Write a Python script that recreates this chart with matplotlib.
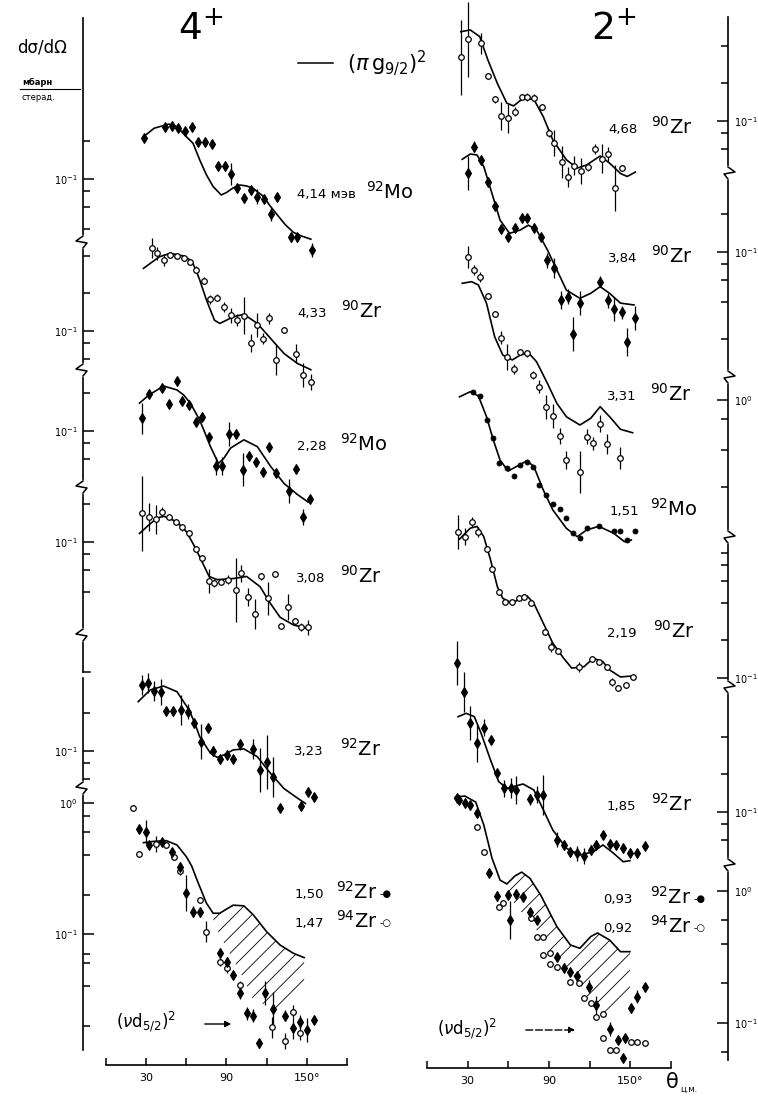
import numpy as np
import matplotlib.pyplot as plt
from matplotlib.lines import Line2D
from matplotlib.patches import FancyArrowPatch
from matplotlib.ticker import NullFormatter

plt.rcParams['font.family'] = ['DejaVu Sans']
plt.rcParams['hatch.linewidth'] = 0.6

# ---------------- 4+ column (angles in deg c.m., cross sections in mb/sr) ----------------
# 4,14 MeV 92Mo
a_mo92_414 = [28, 44, 49, 54, 59, 64, 69, 74, 79, 84, 89, 93, 98, 103, 108, 113, 118, 123, 128, 138, 143, 154]
s_mo92_414 = [0.211, 0.262, 0.266, 0.255, 0.243, 0.259, 0.199, 0.199, 0.190, 0.127, 0.127, 0.110, 0.084, 0.070,
              0.081, 0.072, 0.069, 0.0525, 0.072, 0.0341, 0.0341, 0.027]
e_mo92_414 = [1.07, 1.06, 1.06, 1.06, 1.06, 1.06, 1.07, 1.07, 1.07, 1.08, 1.08, 1.22, 1.08, 1.08, 1.08, 1.15,
              1.08, 1.13, 1.08, 1.08, 1.08, 1.13]
ta_mo92_414 = [28, 36, 47, 53, 60, 65, 70, 75, 80, 86, 90, 95, 100, 105, 110, 118, 122, 128, 134, 140, 146, 153]
ts_mo92_414 = [0.218, 0.255, 0.275, 0.262, 0.218, 0.193, 0.142, 0.108, 0.087, 0.0745, 0.078, 0.085, 0.0895, 0.088,
               0.084, 0.072, 0.062, 0.0515, 0.043, 0.0374, 0.035, 0.033]

# 4,33 90Zr
a_zr90_433 = [34, 38, 43, 48, 53, 58, 63, 67, 73, 78, 83, 88, 93, 98, 103, 108, 113, 117, 122, 127, 133, 142, 147, 153]
s_zr90_433 = [0.459, 0.418, 0.370, 0.406, 0.398, 0.382, 0.358, 0.31, 0.253, 0.179, 0.185, 0.156, 0.134, 0.122,
              0.133, 0.080, 0.112, 0.087, 0.126, 0.059, 0.102, 0.066, 0.0445, 0.039]
e_zr90_433 = [1.2, 1.12, 1.12, 1.06, 1.06, 1.06, 1.06, 1.06, 1.06, 1.08, 1.06, 1.1, 1.15, 1.12, 1.4, 1.18, 1.25,
              1.1, 1.1, 1.32, 1.06, 1.2, 1.25, 1.16]
ta_zr90_433 = [28, 35, 40, 48, 58, 62, 65, 67.5, 70, 75, 81, 85, 90, 95, 103, 113, 123, 133, 143, 153]
ts_zr90_433 = [0.317, 0.36, 0.393, 0.418, 0.398, 0.375, 0.345, 0.30, 0.256, 0.177, 0.122, 0.115, 0.122, 0.130,
               0.136, 0.115, 0.087, 0.066, 0.055, 0.049]

# 2,28 92Mo
a_mo92_228 = [27, 32, 42, 47, 53, 57, 62, 67, 72, 77, 82, 87, 92, 97, 102, 107, 112, 117, 122, 127, 137, 142, 147, 152]
s_mo92_228 = [0.126, 0.198, 0.220, 0.164, 0.251, 0.174, 0.161, 0.117, 0.130, 0.090, 0.0525, 0.0525, 0.094, 0.094,
              0.049, 0.063, 0.056, 0.047, 0.075, 0.046, 0.033, 0.050, 0.0206, 0.0284]
e_mo92_228 = [1.34, 1.06, 1.06, 1.07, 1.06, 1.06, 1.06, 1.06, 1.06, 1.06, 1.18, 1.18, 1.25, 1.06, 1.36, 1.08, 1.06,
              1.07, 1.05, 1.08, 1.25, 1.05, 1.16, 1.06]
ta_mo92_228 = [25, 32, 43, 53, 58, 63, 70, 74, 78, 84, 88, 93, 103, 113, 123, 133, 143, 151]
ts_mo92_228 = [0.167, 0.194, 0.229, 0.213, 0.194, 0.167, 0.122, 0.096, 0.075, 0.055, 0.0605, 0.073, 0.085, 0.075,
               0.052, 0.038, 0.031, 0.027]

# 3,08 90Zr
a_zr90_308 = [27, 32, 37, 42, 47, 52, 57, 62, 67, 72, 77, 81, 86, 91, 97, 101, 106, 111, 116, 121, 126, 131, 136,
              141, 146, 151]
s_zr90_308 = [0.170, 0.159, 0.152, 0.173, 0.158, 0.145, 0.131, 0.117, 0.088, 0.074, 0.049, 0.047, 0.048, 0.050,
              0.041, 0.056, 0.0365, 0.0265, 0.053, 0.0355, 0.0555, 0.0213, 0.030, 0.0233, 0.0208, 0.0208]
e_zr90_308 = [2.0, 1.3, 1.3, 1.1, 1.06, 1.06, 1.06, 1.06, 1.06, 1.06, 1.25, 1.08, 1.06, 1.08, 1.8, 1.16, 1.18, 1.32,
              1.06, 1.36, 1.06, 1.06, 1.27, 1.06, 1.08, 1.15]
ta_zr90_308 = [25, 32, 38, 43, 53, 60, 65, 70, 77, 83, 95, 105, 115, 123, 130, 140, 150]
ts_zr90_308 = [0.117, 0.137, 0.155, 0.161, 0.145, 0.121, 0.097, 0.076, 0.053, 0.050, 0.051, 0.053, 0.044, 0.032,
               0.025, 0.0217, 0.0204]

# 3,23 92Zr
a_zr92_323 = [27, 31, 36, 41, 45, 50, 56, 61, 66, 71, 76, 80, 85, 90, 95, 100, 110, 115, 120, 125, 130, 146, 151, 155]
s_zr92_323 = [0.337, 0.35, 0.304, 0.298, 0.210, 0.210, 0.213, 0.206, 0.167, 0.119, 0.152, 0.100, 0.087, 0.093,
              0.086, 0.113, 0.103, 0.0705, 0.082, 0.062, 0.035, 0.036, 0.047, 0.043]
e_zr92_323 = [1.2, 1.2, 1.2, 1.27, 1.08, 1.08, 1.32, 1.15, 1.08, 1.37, 1.06, 1.1, 1.06, 1.06, 1.06, 1.1, 1.2, 1.5,
              1.65, 1.45, 1.06, 1.06, 1.06, 1.06]
ta_zr92_323 = [24, 33, 43, 53, 62, 66, 70, 78, 83, 88, 95, 103, 113, 123, 133, 143, 149]
ts_zr92_323 = [0.248, 0.308, 0.331, 0.298, 0.213, 0.17, 0.130, 0.096, 0.089, 0.093, 0.102, 0.104, 0.090, 0.066,
               0.050, 0.042, 0.038]

# 1,50 92Zr (filled) and 1,47 94Zr (open)
a_zr92_150 = [25, 30, 32, 42, 49, 55, 60, 65, 70, 85, 90, 95, 100, 105, 110, 114, 119, 125, 134, 140, 145, 150, 155]
s_zr92_150 = [0.63, 0.60, 0.478, 0.50, 0.425, 0.327, 0.205, 0.148, 0.146, 0.072, 0.061, 0.0486, 0.0356, 0.0248,
              0.0237, 0.0146, 0.0356, 0.0266, 0.0237, 0.019, 0.0214, 0.0185, 0.022]
e_zr92_150 = [1.06, 1.23, 1.06, 1.06, 1.06, 1.08, 1.37, 1.1, 1.08, 1.08, 1.1, 1.06, 1.12, 1.12, 1.12, 1.08, 1.23,
              1.35, 1.1, 1.2, 1.12, 1.23, 1.06]
a_zr94_147 = [20, 25, 37, 45, 51, 55, 70, 75, 85, 90, 100, 124, 134, 140, 145]
s_zr94_147 = [0.91, 0.41, 0.49, 0.478, 0.389, 0.30, 0.182, 0.104, 0.0615, 0.0547, 0.0408, 0.0194, 0.0153, 0.0255,
              0.0177]
e_zr94_147 = [1.05, 1.05, 1.15, 1.06, 1.06, 1.06, 1.06, 1.2, 1.08, 1.08, 1.08, 1.2, 1.15, 1.12, 1.15]
ta_zr_150 = [28, 36, 45, 53, 60, 64, 68, 75, 80, 85, 90, 95, 103, 110, 120, 130, 140, 148]
ts_zr_150 = [0.498, 0.51, 0.516, 0.478, 0.389, 0.33, 0.258, 0.172, 0.144, 0.144, 0.155, 0.166, 0.164, 0.14, 0.104,
             0.0824, 0.0712, 0.066]
# hatched band down to the (nu d5/2)^2 curve
ha_150 = [77, 85, 95, 103, 110, 120, 130, 140, 148]
hhi_150 = [0.16, 0.144, 0.166, 0.164, 0.14, 0.104, 0.0824, 0.0712, 0.066]
hlo_150 = [0.155, 0.097, 0.0633, 0.0454, 0.0313, 0.0287, 0.0252, 0.0295, 0.0345]

# ---------------- 2+ column ----------------
# 4,68 90Zr
a_zr90_468 = [25, 30, 40, 45, 50, 55, 60, 65, 70, 74, 79, 85, 90, 94, 100, 104, 109, 114, 119, 124, 129, 134, 139, 144]
s_zr90_468 = [0.323, 0.45, 0.418, 0.229, 0.149, 0.110, 0.105, 0.119, 0.155, 0.156, 0.154, 0.129, 0.080, 0.067,
              0.047, 0.0355, 0.044, 0.040, 0.043, 0.060, 0.050, 0.0545, 0.029, 0.042]
e_zr90_468 = [2.0, 2.0, 1.22, 1.06, 1.06, 1.3, 1.3, 1.08, 1.06, 1.07, 1.06, 1.06, 1.08, 1.27, 1.34, 1.2, 1.2, 1.27,
              1.08, 1.1, 1.3, 1.13, 1.53, 1.06]
ta_zr90_468 = [25, 32, 39, 45, 52, 59, 64, 71, 79, 86, 93, 103, 111, 118, 128, 135, 143, 148, 154]
ts_zr90_468 = [0.518, 0.535, 0.473, 0.308, 0.200, 0.139, 0.132, 0.152, 0.149, 0.108, 0.0705, 0.049, 0.042, 0.0445,
               0.0525, 0.046, 0.038, 0.036, 0.039]

# 3,84 90Zr
a_zr90_384 = [30, 35, 40, 45, 50, 55, 60, 65, 70, 74, 79, 84, 89, 94, 99, 104, 108, 113, 128, 134, 138, 144, 148, 154]
s_zr90_384 = [0.431, 0.696, 0.545, 0.365, 0.233, 0.152, 0.133, 0.155, 0.186, 0.186, 0.155, 0.131, 0.086, 0.074,
              0.041, 0.044, 0.022, 0.039, 0.058, 0.041, 0.035, 0.033, 0.019, 0.0295]
e_zr90_384 = [1.37, 1.1, 1.06, 1.06, 1.06, 1.06, 1.06, 1.06, 1.06, 1.06, 1.06, 1.06, 1.15, 1.2, 1.18, 1.15, 1.37,
              1.25, 1.1, 1.15, 1.25, 1.13, 1.3, 1.25]
ta_zr90_384 = [26, 32, 37, 42, 48, 54, 61, 69, 75, 81, 89, 96, 103, 113, 121, 128, 135, 143, 153]
ts_zr90_384 = [0.551, 0.608, 0.597, 0.481, 0.295, 0.180, 0.141, 0.150, 0.164, 0.150, 0.104, 0.0718, 0.0496, 0.0426,
               0.0467, 0.0528, 0.0467, 0.039, 0.0377]

# 3,31 90Zr
a_zr90_331 = [30, 35, 39, 45, 50, 55, 59, 64, 69, 74, 78, 83, 88, 93, 98, 103, 113, 118, 123, 128, 133, 143]
s_zr90_331 = [14.0, 11.0, 9.6, 6.8, 4.85, 3.15, 2.2, 1.77, 2.41, 2.36, 1.58, 1.28, 0.874, 0.745, 0.515, 0.331,
              0.267, 0.509, 0.45, 0.643, 0.445, 0.342]
e_zr90_331 = [1.22, 1.1, 1.1, 1.06, 1.06, 1.13, 1.27, 1.1, 1.06, 1.06, 1.08, 1.12, 1.25, 1.25, 1.15, 1.17, 1.47,
              1.15, 1.13, 1.17, 1.2, 1.22]
ta_zr90_331 = [26, 33, 38, 44, 50, 56, 63, 69, 75, 81, 89, 96, 103, 113, 121, 128, 135, 143, 152]
ts_zr90_331 = [8.58, 8.84, 8.32, 5.94, 3.21, 2.29, 2.09, 2.29, 2.39, 2.02, 1.36, 0.94, 0.735, 0.631, 0.714, 0.884,
               0.735, 0.583, 0.547]

# 1,51 92Mo
a_mo92_151 = [34, 39, 44, 49, 53, 59, 64, 69, 74, 78, 83, 88, 93, 98, 103, 108, 113, 118, 127, 138, 143, 148, 154]
s_mo92_151 = [1.165, 1.077, 0.692, 0.494, 0.315, 0.287, 0.247, 0.302, 0.317, 0.293, 0.209, 0.174, 0.147, 0.134,
              0.113, 0.0859, 0.0783, 0.0941, 0.0976, 0.09, 0.09, 0.0759, 0.0894]
ta_mo92_151 = [24, 32, 38, 44, 49, 54, 60, 66, 74, 79, 86, 93, 103, 111, 118, 127, 138, 146, 151]
ts_mo92_151 = [1.06, 1.165, 1.077, 0.735, 0.479, 0.331, 0.27, 0.293, 0.327, 0.293, 0.19, 0.132, 0.0941, 0.0806,
               0.0912, 0.0976, 0.0859, 0.0735, 0.0759]

# 2,19 90Zr
a_zr90_219 = [23, 28, 33, 38, 44, 48, 53, 58, 63, 68, 72, 77, 87, 92, 97, 112, 122, 127, 133, 137, 141, 147, 152]
s_zr90_219 = [1.48, 1.35, 1.78, 1.48, 1.07, 0.745, 0.49, 0.408, 0.408, 0.434, 0.447, 0.396, 0.235, 0.176, 0.165,
              0.122, 0.142, 0.135, 0.123, 0.093, 0.083, 0.088, 0.102]
e_zr90_219 = [1.37, 1.17, 1.1, 1.1, 1.06, 1.06, 1.06, 1.05, 1.05, 1.05, 1.05, 1.05, 1.06, 1.1, 1.06, 1.1, 1.06,
              1.06, 1.06, 1.08, 1.06, 1.06, 1.06]
ta_zr90_219 = [24, 32, 37, 42, 47, 52, 56, 63, 69, 74, 79, 86, 93, 101, 107, 116, 123, 130, 135, 143, 153]
ts_zr90_219 = [1.29, 1.58, 1.63, 1.35, 0.879, 0.538, 0.434, 0.396, 0.434, 0.453, 0.396, 0.274, 0.19, 0.144, 0.12,
               0.123, 0.144, 0.135, 0.116, 0.102, 0.104]

# 1,85 92Zr
a_zr92_185 = [22, 27, 32, 37, 42, 47, 52, 57, 62, 66, 76, 81, 86, 96, 101, 106, 111, 116, 121, 125, 130, 135, 140,
              145, 150, 155, 161]
s_zr92_185 = [1.56, 0.917, 0.518, 0.358, 0.473, 0.377, 0.204, 0.155, 0.155, 0.15, 0.126, 0.137, 0.137, 0.060,
              0.0545, 0.048, 0.0467, 0.0445, 0.0496, 0.0545, 0.0655, 0.0555, 0.0545, 0.0513, 0.0467, 0.0472, 0.0535]
e_zr92_185 = [1.5, 1.45, 1.37, 1.42, 1.17, 1.08, 1.06, 1.17, 1.2, 1.3, 1.1, 1.17, 1.45, 1.15, 1.1, 1.1, 1.15, 1.15,
              1.1, 1.1, 1.08, 1.06, 1.06, 1.08, 1.06, 1.06, 1.06]
ta_zr92_185 = [23, 29, 35, 40, 47, 53, 59, 65, 71, 79, 86, 93, 103, 113, 123, 130, 138, 145, 150]
ts_zr92_185 = [0.579, 0.616, 0.579, 0.426, 0.26, 0.175, 0.155, 0.161, 0.1675, 0.15, 0.104, 0.0718, 0.0513, 0.0453,
               0.048, 0.0545, 0.0467, 0.040, 0.0408]

# 0,93 92Zr (filled) and 0,92 94Zr (open)
a_zr92_093 = [22, 24, 28, 32, 37, 46, 52, 60, 61, 66, 71, 76, 81, 96, 101, 106, 111, 120, 125, 135, 141, 145, 146,
              151, 155, 161]
s_zr92_093 = [5.04, 4.89, 4.62, 4.48, 3.88, 1.38, 0.917, 0.933, 0.603, 0.949, 0.905, 0.697, 0.603, 0.315, 0.26,
              0.245, 0.227, 0.188, 0.137, 0.0896, 0.0743, 0.054, 0.0766, 0.129, 0.158, 0.188]
e_zr92_093 = [1.06, 1.06, 1.06, 1.06, 1.06, 1.06, 1.1, 1.06, 1.39, 1.06, 1.06, 1.06, 1.06, 1.06, 1.06, 1.06, 1.06,
              1.12, 1.17, 1.13, 1.08, 1.06, 1.06, 1.08, 1.12, 1.06]
a_zr94_092 = [37, 42, 53, 56, 77, 81, 86, 86, 91, 91, 96, 106, 112, 116, 121, 125, 130, 130, 135, 140, 151, 155, 161]
s_zr94_092 = [3.07, 1.98, 0.752, 0.807, 0.621, 0.451, 0.451, 0.327, 0.341, 0.28, 0.267, 0.206, 0.2, 0.154, 0.141,
              0.112, 0.118, 0.0766, 0.0624, 0.0624, 0.0722, 0.0722, 0.071]
ta_zr_093 = [21, 28, 36, 42, 48, 54, 59, 65, 70, 76, 84, 96, 106, 113, 121, 126, 135, 143, 150]
ts_zr_093 = [5.15, 5.24, 4.72, 3.16, 1.78, 1.21, 1.13, 1.30, 1.39, 1.25, 0.933, 0.537, 0.39, 0.368, 0.451, 0.481,
             0.425, 0.347, 0.347]
ha_093 = [56, 65, 70, 76, 84, 96, 106, 113, 121, 126, 135, 143, 150]
hhi_093 = [1.15, 1.30, 1.39, 1.25, 0.933, 0.537, 0.39, 0.368, 0.451, 0.481, 0.425, 0.347, 0.347]
hlo_093 = [1.05, 0.8, 0.69, 0.59, 0.46, 0.3, 0.24, 0.2, 0.14, 0.125, 0.11, 0.125, 0.168]

x_ticks = [0, 30, 60, 90, 120, 150, 180]
x_labels = ['', '30', '', '90', '', '150°', '']

# ---------------- layout (pixels of the 758 x 1097 page) ----------------
W, H = 758, 1097
fig = plt.figure(figsize=(W / 100, H / 100), dpi=100)


def fx(x):
    return x / W


def fy(y):
    return 1 - y / H


# each strip of the broken log axis: top, bottom, reference value, its pixel row, pixels per decade,
# labelled ticks, small ticks
left_strips = [
    (18, 242, 0.1, 179, 125, [0.1], [0.2, 0.08, 0.06, 0.04]),
    (242, 370, 0.1, 331, 125, [0.1], [0.4, 0.2, 0.08, 0.06]),
    (370, 487, 0.1, 431, 125, [0.1], [0.2, 0.08, 0.06]),
    (487, 672, 0.1, 542, 125, [0.1], [0.2, 0.08, 0.06, 0.04]),
    (678, 788, 0.1, 751, 125, [0.1], [0.2, 0.08, 0.06]),
    (788, 1050, 1.0, 803, 131, [1.0, 0.1], [0.8, 0.6, 0.4, 0.2, 0.07, 0.06, 0.04, 0.02]),
]
right_strips = [
    (17, 173, 0.1, 121, 125, [0.1], [0.4, 0.2, 0.08, 0.06]),
    (173, 377, 0.1, 252, 125, [0.1], [0.2, 0.08, 0.06, 0.04, 0.02]),
    (377, 537, 1.0, 400, 125, [1.0], [0.7, 0.4, 0.2]),
    (537, 687, 0.1, 678, 125, [0.1], [1.0, 0.8, 0.6, 0.4, 0.2]),
    (687, 865, 0.1, 812, 125, [0.1], [0.4, 0.2, 0.08, 0.06]),
    (865, 1060, 1.0, 891, 132, [1.0, 0.1], [0.6, 0.4, 0.2, 0.06]),
]


def power_label(v):
    return r'$10^{%d}$' % round(np.log10(v))


def strip_axes(x0, x1, xlim, strip, side):
    top, bot, ref, ref_y, dec, majors, minors = strip
    ax = fig.add_axes([fx(x0), fy(bot), (x1 - x0) / W, (bot - top) / H])
    ax.set_yscale('log')
    ax.set_ylim(ref * 10 ** (-(bot - ref_y) / dec), ref * 10 ** ((ref_y - top) / dec))
    ax.set_xlim(*xlim)
    ax.set_facecolor('none')
    for name, sp in ax.spines.items():
        sp.set_visible(name == side)
        sp.set_linewidth(1.2)
    ax.set_xticks([])
    ax.yaxis.set_ticks_position(side)
    ax.set_yticks(majors, [power_label(m) for m in majors])
    ax.set_yticks(minors, minor=True)
    ax.yaxis.set_minor_formatter(NullFormatter())
    ax.tick_params(axis='y', which='major', direction='in', length=8, width=1.1, labelsize=7, pad=4)
    ax.tick_params(axis='y', which='minor', direction='in', length=5, width=1.1)
    return ax


L = [strip_axes(83, 347, (-17.2, 180), s, 'left') for s in left_strips]
R = [strip_axes(427, 728, (0, 222.5), s, 'right') for s in right_strips]

filled_d = dict(marker='d', ms=5, mfc='k', mec='k', mew=0.8)
open_o = dict(marker='o', ms=4, mfc='white', mec='k', mew=0.9)
filled_o = dict(marker='o', ms=3.6, mfc='k', mec='k', mew=0.6)


def draw_exp(ax, ang, sig, err, style):
    sig = np.asarray(sig, float)
    if err is not None:
        f = np.asarray(err, float)
        c = ax.errorbar(ang, sig, yerr=[sig - sig / f, sig * f - sig], fmt='none', ecolor='k',
                        elinewidth=0.9, capsize=0)
        for art in c.get_children():
            art.set_clip_on(False)
    ax.plot(ang, sig, ls='none', clip_on=False, zorder=3, **style)


def draw_theory(ax, ang, sig):
    ax.plot(ang, sig, color='k', lw=1.2, clip_on=False, solid_joinstyle='round')


# 4+ column
draw_theory(L[0], ta_mo92_414, ts_mo92_414)
draw_exp(L[0], a_mo92_414, s_mo92_414, e_mo92_414, filled_d)
draw_theory(L[1], ta_zr90_433, ts_zr90_433)
draw_exp(L[1], a_zr90_433, s_zr90_433, e_zr90_433, open_o)
draw_theory(L[2], ta_mo92_228, ts_mo92_228)
draw_exp(L[2], a_mo92_228, s_mo92_228, e_mo92_228, filled_d)
draw_theory(L[3], ta_zr90_308, ts_zr90_308)
draw_exp(L[3], a_zr90_308, s_zr90_308, e_zr90_308, open_o)
draw_theory(L[4], ta_zr92_323, ts_zr92_323)
draw_exp(L[4], a_zr92_323, s_zr92_323, e_zr92_323, filled_d)
L[5].fill_between(ha_150, hlo_150, hhi_150, facecolor='none', edgecolor='k', hatch='//', linewidth=0,
                  clip_on=False)
draw_theory(L[5], ta_zr_150, ts_zr_150)
draw_exp(L[5], a_zr94_147, s_zr94_147, e_zr94_147, open_o)
draw_exp(L[5], a_zr92_150, s_zr92_150, e_zr92_150, filled_d)

# 2+ column
draw_theory(R[0], ta_zr90_468, ts_zr90_468)
draw_exp(R[0], a_zr90_468, s_zr90_468, e_zr90_468, open_o)
draw_theory(R[1], ta_zr90_384, ts_zr90_384)
draw_exp(R[1], a_zr90_384, s_zr90_384, e_zr90_384, filled_d)
draw_theory(R[2], ta_zr90_331, ts_zr90_331)
draw_exp(R[2], a_zr90_331, s_zr90_331, e_zr90_331, open_o)
draw_theory(R[2], ta_mo92_151, ts_mo92_151)
draw_exp(R[2], a_mo92_151, s_mo92_151, None, filled_o)
draw_theory(R[3], ta_zr90_219, ts_zr90_219)
draw_exp(R[3], a_zr90_219, s_zr90_219, e_zr90_219, open_o)
draw_theory(R[4], ta_zr92_185, ts_zr92_185)
draw_exp(R[4], a_zr92_185, s_zr92_185, e_zr92_185, filled_d)
R[5].fill_between(ha_093, hlo_093, hhi_093, facecolor='none', edgecolor='k', hatch='//', linewidth=0,
                  clip_on=False)
draw_theory(R[5], ta_zr_093, ts_zr_093)
draw_exp(R[5], a_zr94_092, s_zr94_092, None, open_o)
draw_exp(R[5], a_zr92_093, s_zr92_093, e_zr92_093, filled_d)


# angle axes at the bottom
def angle_axis(x0, x1, y):
    ax = fig.add_axes([fx(x0), fy(y), (x1 - x0) / W, 0.5 / H])
    ax.set_xlim(0, 180)
    ax.set_yticks([])
    ax.set_facecolor('none')
    for name, sp in ax.spines.items():
        sp.set_visible(name == 'bottom')
        sp.set_linewidth(1.2)
    ax.set_xticks(x_ticks, x_labels)
    ax.tick_params(axis='x', direction='in', length=5, width=1.1, labelsize=8, pad=6)
    return ax


angle_axis(106, 347, 1065)
angle_axis(427, 671, 1068)


# axis breaks
def zig(x, y, s):
    fig.add_artist(Line2D([fx(x), fx(x)], [fy(y - 5), fy(y + 5)], color='white', lw=3))
    xs = [x, x + s * 7, x - s * 4, x]
    ys = [y - 6, y - 1, y + 1, y + 6]
    fig.add_artist(Line2D([fx(v) for v in xs], [fy(v) for v in ys], color='k', lw=1.1))


for yb in [242, 370, 487, 635, 788]:
    zig(83, yb, -1)
for yb in [173, 377, 537, 687, 865]:
    zig(728, yb, 1)
fig.add_artist(Line2D([fx(83), fx(90)], [fy(672), fy(672)], color='k', lw=1.1))

# titles and axis captions
fig.text(fx(178), fy(30), r'4$^{+}$', fontsize=27, va='center')
fig.text(fx(591), fy(30), r'2$^{+}$', fontsize=27, va='center')
fig.text(fx(17), fy(47), 'dσ/dΩ', fontsize=12, va='center')
fig.text(fx(22), fy(82), 'мбарн', fontsize=6, va='center', weight='bold')
fig.add_artist(Line2D([fx(20), fx(80)], [fy(89), fy(89)], color='k', lw=0.8))
fig.text(fx(22), fy(97), 'стерад.', fontsize=6, va='center')
fig.add_artist(Line2D([fx(298), fx(333)], [fy(63), fy(63)], color='k', lw=1.1))
fig.text(fx(347), fy(63), r'$(\pi\,\mathrm{g}_{9/2})^{2}$', fontsize=15, va='center')
fig.text(fx(666), fy(1082), 'θ', fontsize=15, va='center')
fig.text(fx(680), fy(1089), 'ц.м.', fontsize=6, va='center')

# (nu d5/2)^2 arrows
fig.text(fx(116), fy(1022), r'$(\nu\mathrm{d}_{5/2})^{2}$', fontsize=12, va='center')
fig.add_artist(FancyArrowPatch((fx(202), fy(1024)), (fx(234), fy(1024)), transform=fig.transFigure,
                               arrowstyle='-|>', mutation_scale=9, lw=1, color='k'))
fig.text(fx(437), fy(1029), r'$(\nu\mathrm{d}_{5/2})^{2}$', fontsize=12, va='center')
fig.add_artist(FancyArrowPatch((fx(523), fy(1030)), (fx(578), fy(1030)), transform=fig.transFigure,
                               arrowstyle='-|>', mutation_scale=9, lw=1, color='k', linestyle=(0, (5, 2))))

# level labels: energy, isotope, marker
labels = [
    (297, 198, '4,14 мэв', 366, r'$^{92}$Mo', ''),
    (297, 317, '4,33', 341, r'$^{90}$Zr', ''),
    (297, 450, '2,28', 340, r'$^{92}$Mo', ''),
    (296, 582, '3,08', 340, r'$^{90}$Zr', ''),
    (294, 755, '3,23', 340, r'$^{92}$Zr', ''),
    (295, 898, '1,50', 336, r'$^{92}$Zr', '-●'),
    (295, 927, '1,47', 336, r'$^{94}$Zr', '-○'),
    (608, 133, '4,68', 651, r'$^{90}$Zr', ''),
    (608, 262, '3,84', 651, r'$^{90}$Zr', ''),
    (607, 400, '3,31', 650, r'$^{90}$Zr', ''),
    (610, 515, '1,51', 650, r'$^{92}$Mo', ''),
    (607, 637, '2,19', 653, r'$^{90}$Zr', ''),
    (607, 810, '1,85', 651, r'$^{92}$Zr', ''),
    (603, 903, '0,93', 650, r'$^{92}$Zr', '-●'),
    (603, 932, '0,92', 650, r'$^{94}$Zr', '-○'),
]
for xn, yb, num, xi, iso, mark in labels:
    fig.text(fx(xn), fy(yb), num, fontsize=9.5, va='baseline')
    fig.text(fx(xi), fy(yb + 1), iso, fontsize=14, va='baseline')
    if mark:
        fig.text(fx(xi + 44), fy(yb - 1), mark, fontsize=7, va='baseline')

fig.savefig('out.png', dpi=100)
